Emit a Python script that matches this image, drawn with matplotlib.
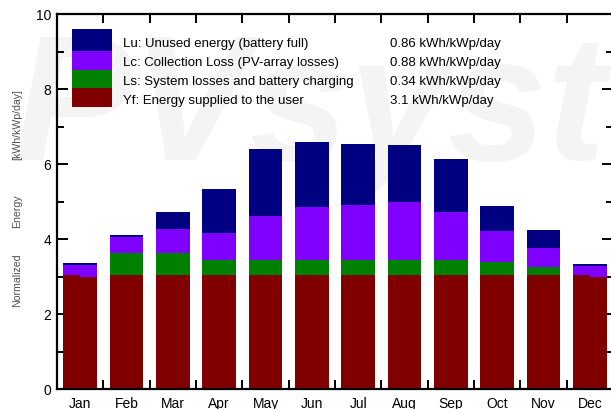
import numpy as np
import matplotlib
matplotlib.use("Agg")
import matplotlib.pyplot as plt
from matplotlib.patches import Rectangle

plt.rcParams['font.family'] = ['Liberation Sans', 'DejaVu Sans']

months = ["Jan", "Feb", "Mar", "Apr", "May", "Jun",
          "Jul", "Aug", "Sep", "Oct", "Nov", "Dec"]

# Normalized energies, kWh/kWp/day
yf = [3.00, 3.05, 3.05, 3.05, 3.05, 3.05, 3.05, 3.05, 3.05, 3.05, 3.05, 2.99]
yf_first_half = [0.05, 0, 0, 0, 0, 0, 0, 0, 0, 0, 0, 0.06]
ls = [0.00, 0.59, 0.59, 0.40, 0.40, 0.40, 0.40, 0.40, 0.40, 0.35, 0.20, 0.00]
lc = [0.30, 0.42, 0.62, 0.71, 1.17, 1.41, 1.47, 1.53, 1.27, 0.81, 0.51, 0.30]
lu = [0.05, 0.05, 0.47, 1.17, 1.78, 1.74, 1.60, 1.54, 1.42, 0.67, 0.47, 0.05]

legend_labels = ["Lu: Unused energy (battery full)",
                 "Lc: Collection Loss (PV-array losses)",
                 "Ls: System losses and battery charging",
                 "Yf: Energy supplied to the user"]
legend_values = ["0.86 kWh/kWp/day", "0.88 kWh/kWp/day",
                 "0.34 kWh/kWp/day", "3.1 kWh/kWp/day"]

c_lu, c_lc, c_ls, c_yf = "#000080", "#8000ff", "#008000", "#800000"

fig = plt.figure(figsize=(6.11, 4.10), dpi=100)
fig.patch.set_facecolor("white")

# faint background watermark, behind everything else
fig.text(0.022, 1 - 160 / 410, "PVsyst", fontsize=128, fontweight="bold",
         style="italic", color="#f4f4f4", zorder=-5, ha="left", va="baseline")

ax = fig.add_axes([57 / 611, 20 / 410, 556 / 611, 375 / 410])
ax.set_facecolor("none")

x = np.arange(len(months))
w = 0.73
yf_a = np.array(yf)
ls_a = np.array(ls)
lc_a = np.array(lc)
lu_a = np.array(lu)

ax.bar(x, yf_a, w, color=c_yf, zorder=2)
ax.bar(x, ls_a, w, bottom=yf_a, color=c_ls, zorder=2)
ax.bar(x, lc_a, w, bottom=yf_a + ls_a, color=c_lc, zorder=2)
ax.bar(x, lu_a, w, bottom=yf_a + ls_a + lc_a, color=c_lu, zorder=2)
ax.bar(x - w / 2, yf_a + np.array(yf_first_half), w / 2, align="edge",
       color=c_yf, zorder=2)

ax.set_xlim(-0.5, 11.5)
ax.set_ylim(0, 10)

ax.set_xticks(x)
ax.set_xticklabels(months, fontsize=10)
ax.set_xticks(np.arange(0.5, 11.5, 1.0), minor=True)
ax.tick_params(axis="x", which="major", length=0, pad=5)
ax.tick_params(axis="x", which="minor", direction="in", length=6.5, width=1.4,
               top=True, bottom=True)

ax.set_yticks(np.arange(0, 11, 2))
ax.set_yticks(np.arange(1, 10, 2), minor=True)
ax.tick_params(axis="y", which="major", direction="in", length=8, width=1.4,
               left=True, right=True, labelsize=10, pad=4)
ax.tick_params(axis="y", which="minor", direction="in", length=5, width=1.4,
               left=True, right=True)
for side in ("left", "right", "top", "bottom"):
    ax.spines[side].set_linewidth(1.6)

# legend block placed in figure pixels
patch_colors = [c_lu, c_lc, c_ls, c_yf]
px0, px1 = 72, 112
row_top = [30, 52, 71, 89]
row_bot = [52, 71, 89, 108]
text_y = [44, 63, 82, 101]
for col, yt, yb, ty, lab, val in zip(patch_colors, row_top, row_bot, text_y,
                                    legend_labels, legend_values):
    fig.patches.append(Rectangle((px0 / 611, 1 - yb / 410), (px1 - px0) / 611,
                                 (yb - yt) / 410, transform=fig.transFigure,
                                 facecolor=col, edgecolor="none", zorder=3))
    fig.text(123 / 611, 1 - ty / 410, lab, fontsize=9.5, va="center", ha="left",
             zorder=3)
    fig.text(390 / 611, 1 - ty / 410, val, fontsize=9.5, va="center", ha="left",
             zorder=3)

# vertical axis title in three pieces
for txt, yc in (("Normalized", 280), ("Energy", 211), ("[kWh/kWp/day]", 125)):
    fig.text(17 / 611, 1 - yc / 410, txt, rotation=90, fontsize=7.6,
             color="#505050", ha="center", va="center")

fig.savefig("out.png", dpi=100)
